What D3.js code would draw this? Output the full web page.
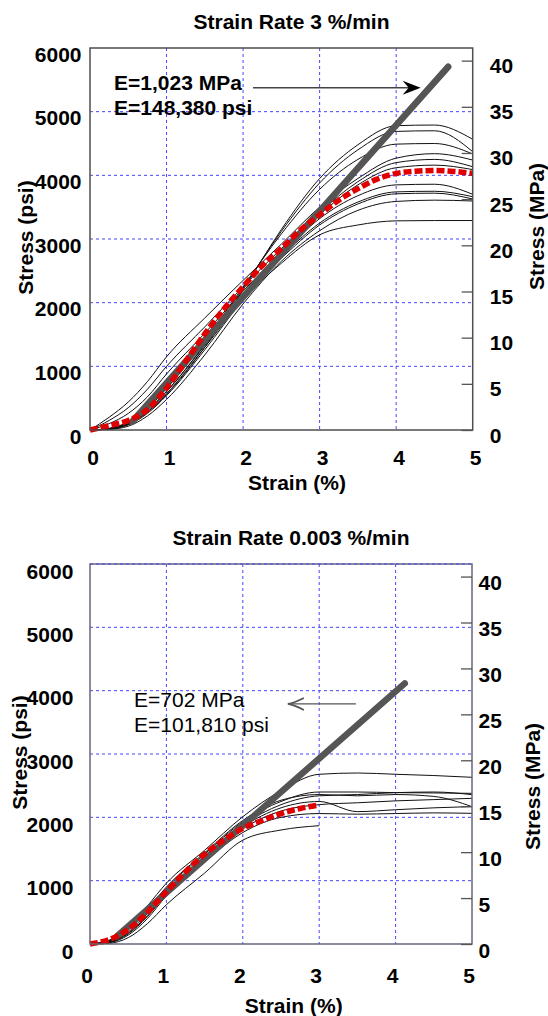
<!DOCTYPE html>
<html>
<head>
<meta charset="utf-8">
<script src="https://cdn.jsdelivr.net/npm/d3@7"></script>
<style>
    body { margin: 0; background: #fff; }
    text { font-family: "Liberation Sans", Arial, sans-serif; font-weight: bold; font-size: 21px; }
</style>
</head>
<body>
<svg id="drawing_region"></svg>
<script>
// ---- data (strain in %, stress in psi) ----
const strainGrid = [0, 0.25, 0.5, 0.75, 1, 1.5, 2, 2.5, 3, 3.5, 4, 4.5, 5];
const avgGrid = [0, 0.25, 0.5, 0.75, 1, 1.25, 1.5, 1.75, 2, 2.25, 2.5, 2.75, 3, 3.25, 3.5, 3.75, 4, 4.25, 4.5, 4.75, 5];

const xTicks = [0, 1, 2, 3, 4, 5];
const psiTicks = [0, 1000, 2000, 3000, 4000, 5000, 6000];
const mpaTicks = [0, 5, 10, 15, 20, 25, 30, 35, 40];
const PSI_PER_MPA = 145.04;

// strain rate 3 %/min
const fastCurves = [
    [0, 15, 90, 280, 560, 1300, 2200, 3150, 3950, 4480, 4780, 4790, 4566],
    [0, 20, 110, 320, 610, 1350, 2230, 3120, 3880, 4400, 4690, 4700, 4371],
    [0, 25, 130, 360, 660, 1400, 2250, 3080, 3780, 4250, 4490, 4500, 4335],
    [0, 200, 440, 760, 1150, 1760, 2350, 2920, 3500, 3950, 4270, 4340, 4240],
    [0, 150, 350, 640, 1000, 1620, 2250, 2850, 3420, 3900, 4200, 4250, 4135],
    [0, 100, 260, 520, 880, 1520, 2180, 2800, 3380, 3850, 4120, 4160, 4090],
    [0, 20, 100, 300, 600, 1330, 2100, 2760, 3320, 3680, 3850, 3860, 3702],
    [0, 15, 80, 260, 540, 1260, 2050, 2720, 3250, 3580, 3740, 3750, 3664],
    [0, 25, 120, 340, 650, 1380, 2150, 2700, 3220, 3550, 3710, 3720, 3628],
    [0, 10, 60, 220, 480, 1180, 1980, 2650, 3130, 3450, 3590, 3610, 3597],
    [0, 20, 90, 280, 570, 1300, 2050, 2620, 3065, 3220, 3285, 3290, 3290]
];
const fastAverage = [0, 70, 150, 320, 660, 1080, 1510, 1900, 2250, 2580, 2850, 3140, 3380,
    3610, 3790, 3940, 4030, 4065, 4076, 4062, 4030];
const fastModulus = [[0.55, 130], [4.68, 5706]];

// strain rate 0.003 %/min
const slowCurves = [
    [0, 60, 270, 600, 960, 1480, 2010, 2420, 2680, 2700, 2680, 2660, 2632],
    [0, 45, 220, 520, 880, 1420, 1930, 2250, 2400, 2400, 2390, 2385, 2379],
    [0, 35, 190, 480, 840, 1380, 1880, 2200, 2340, 2360, 2390, 2400, 2358],
    [0, 50, 240, 550, 900, 1440, 1950, 2270, 2360, 2340, 2360, 2330, 2168],
    [0, 30, 170, 450, 800, 1350, 1850, 2150, 2250, 2090, 2120, 2150, 2170],
    [0, 20, 140, 400, 760, 1300, 1760, 2000, 2060, 2050, 2060, 2070, 2063],
    [0, 25, 160, 430, 790, 1330, 1820, 2100, 2200, 2230, 2260, 2280, 2300],
    [0, 10, 100, 320, 620, 1120, 1640, 1800, 1868, null, null, null, null]
];
const slowAverage = [0, 70, 230, 500, 826, 1140, 1420, 1640, 1826, 1950, 2060, 2140, 2195];
const slowModulus = [[0.35, 120], [4.12, 4116]];

class StressStrainChart {

    constructor(config, data) {
        this.config = config;
        this.data = data;
        this.init();
    }

    init() {
        let self = this;
        let c = self.config;

        self.svg = d3.select(c.parent);

        self.xscale = d3.scaleLinear()
            .domain([0, 5])
            .range([c.left, c.right]);

        self.yscale = d3.scaleLinear()
            .domain([0, 6000])
            .range([c.bottom, c.top]);

        self.mpascale = d3.scaleLinear()
            .domain([0, 6000 / PSI_PER_MPA])
            .range([c.bottom, c.top]);

        self.chart = self.svg.append('g');
    }

    render() {
        let self = this;
        let c = self.config;
        let d = self.data;

        // grid
        const grid = self.chart.append('g')
            .attr('stroke', '#4545ff')
            .attr('stroke-width', 1)
            .attr('stroke-dasharray', '3,3');
        grid.selectAll('.vg')
            .data(xTicks.slice(1, -1))
            .enter()
            .append('line')
            .attr('x1', v => self.xscale(v))
            .attr('x2', v => self.xscale(v))
            .attr('y1', c.top)
            .attr('y2', c.bottom);
        grid.selectAll('.hg')
            .data(psiTicks.filter(v => v > 0 && v < 6000))
            .enter()
            .append('line')
            .attr('x1', c.left)
            .attr('x2', c.right)
            .attr('y1', v => self.yscale(v))
            .attr('y2', v => self.yscale(v));

        // specimen curves
        const line = d3.line()
            .defined(p => p[1] != null)
            .x(p => self.xscale(p[0]))
            .y(p => self.yscale(p[1]))
            .curve(d3.curveMonotoneX);

        self.chart.append('g')
            .selectAll('path')
            .data(d.curves)
            .enter()
            .append('path')
            .attr('d', ys => line(ys.map((v, i) => [strainGrid[i], v])))
            .attr('fill', 'none')
            .attr('stroke', '#111')
            .attr('stroke-width', 1);

        // modulus line
        self.chart.append('path')
            .attr('d', d3.line().x(p => self.xscale(p[0])).y(p => self.yscale(p[1]))(d.modulus))
            .attr('fill', 'none')
            .attr('stroke', '#555')
            .attr('stroke-width', 6.5)
            .attr('stroke-linecap', 'round');

        // average curve
        self.chart.append('path')
            .attr('d', line(d.average.map((v, i) => [avgGrid[i], v])))
            .attr('fill', 'none')
            .attr('stroke', '#e00000')
            .attr('stroke-width', 5.5)
            .attr('stroke-dasharray', '8,3');

        // frame
        self.chart.append('rect')
            .attr('x', c.left)
            .attr('y', c.top)
            .attr('width', c.right - c.left)
            .attr('height', c.bottom - c.top)
            .attr('fill', 'none')
            .attr('stroke', c.frameColor)
            .attr('stroke-width', 1.5);
        if (c.topGrid) {
            self.chart.append('line')
                .attr('x1', c.left).attr('x2', c.right)
                .attr('y1', c.top).attr('y2', c.top)
                .attr('stroke', '#4545ff')
                .attr('stroke-dasharray', '3,3');
        }

        // axes
        self.chart.append('g')
            .attr('transform', `translate(${c.left}, 0)`)
            .call(d3.axisLeft(self.yscale).tickValues(psiTicks).tickFormat(d3.format('d'))
                .tickSize(0).tickPadding(c.leftPad))
            .call(g => g.select('.domain').remove())
            .selectAll('text')
            .attr('dy', c.leftDy);

        self.chart.append('g')
            .attr('transform', `translate(${c.right}, 0)`)
            .call(d3.axisRight(self.mpascale).tickValues(mpaTicks).tickFormat(d3.format('d'))
                .tickSize(-11).tickPadding(c.rightPad))
            .call(g => g.select('.domain').remove())
            .call(g => g.selectAll('line').attr('stroke', '#555').attr('stroke-width', 1.3))
            .selectAll('text')
            .attr('dy', c.rightDy);

        self.chart.append('g')
            .attr('transform', `translate(0, ${c.bottom})`)
            .call(d3.axisBottom(self.xscale).tickValues(xTicks).tickFormat(d3.format('d')).tickSize(0))
            .call(g => g.select('.domain').remove())
            .selectAll('text')
            .attr('y', c.xLabelY)
            .attr('dy', 0)
            .attr('dx', c.xLabelDx);

        // titles and labels
        self.chart.append('text')
            .attr('x', c.titleX)
            .attr('y', c.titleY)
            .attr('text-anchor', 'middle')
            .text(c.title);

        self.chart.append('text')
            .attr('x', c.xTitleX)
            .attr('y', c.xTitleY)
            .attr('text-anchor', 'middle')
            .text('Strain (%)');

        self.chart.append('text')
            .attr('transform', `translate(${c.yTitleX}, ${c.yTitleY}) rotate(-90)`)
            .attr('text-anchor', 'middle')
            .text('Stress (psi)');

        self.chart.append('text')
            .attr('transform', `translate(${c.y2TitleX}, ${c.y2TitleY}) rotate(-90)`)
            .attr('text-anchor', 'middle')
            .text('Stress (MPa)');

        // annotation
        const a = c.note;
        self.chart.selectAll('.note')
            .data(a.lines)
            .enter()
            .append('text')
            .attr('x', a.x)
            .attr('y', (t, i) => a.y + i * 25.5)
            .style('font-weight', a.weight)
            .text(t => t);

        const ay = self.yscale(a.arrowPsi);
        const x1 = self.xscale(a.arrowFrom);
        const x2 = self.xscale(a.arrowTo);
        const dir = x2 > x1 ? 1 : -1;
        self.chart.append('line')
            .attr('x1', x1).attr('x2', x2 - dir * 4)
            .attr('y1', ay).attr('y2', ay)
            .attr('stroke', a.arrowColor)
            .attr('stroke-width', 1.3);
        if (a.filled) {
            self.chart.append('path')
                .attr('d', `M${x2},${ay} L${x2 - dir * 18},${ay - 7} L${x2 - dir * 12},${ay} L${x2 - dir * 18},${ay + 7} Z`)
                .attr('fill', '#000');
        } else {
            self.chart.append('path')
                .attr('d', `M${x2 - dir * 16},${ay - 6} Q${x2 - dir * 6},${ay - 1} ${x2},${ay} Q${x2 - dir * 6},${ay + 1} ${x2 - dir * 16},${ay + 6}`)
                .attr('fill', 'none')
                .attr('stroke', a.arrowColor)
                .attr('stroke-width', 1.8);
        }
    }
}

d3.select('#drawing_region')
    .attr('width', 548)
    .attr('height', 1016);

const fastChart = new StressStrainChart({
    parent: '#drawing_region',
    left: 90, right: 472.7, top: 48, bottom: 430,
    frameColor: '#4d4d4d', topGrid: false,
    leftPad: 8.5, leftDy: 13,
    rightPad: 17, rightDy: 12,
    xLabelY: 35, xLabelDx: 2.5,
    title: 'Strain Rate 3 %/min', titleX: 291.5, titleY: 28.5,
    xTitleX: 297, xTitleY: 490,
    yTitleX: 33.3, yTitleY: 237.5,
    y2TitleX: 544, y2TitleY: 226.5,
    note: {
        lines: ['E=1,023 MPa', 'E=148,380 psi'], x: 114, y: 89.5, weight: 'bold',
        arrowPsi: 5376, arrowFrom: 2.13, arrowTo: 4.32, arrowColor: '#444', filled: true
    }
}, { curves: fastCurves, average: fastAverage, modulus: fastModulus });
fastChart.render();

const slowChart = new StressStrainChart({
    parent: '#drawing_region',
    left: 90, right: 472, top: 564, bottom: 944,
    frameColor: '#66667a', topGrid: true,
    leftPad: 16.7, leftDy: 14.3,
    rightPad: 6.5, rightDy: 13,
    xLabelY: 39.3, xLabelDx: -3.5,
    title: 'Strain Rate 0.003 %/min', titleX: 291, titleY: 545,
    xTitleX: 293.7, xTitleY: 1013,
    yTitleX: 26.7, yTitleY: 752.5,
    y2TitleX: 539.5, y2TitleY: 786.5,
    note: {
        lines: ['E=702 MPa', 'E=101,810 psi'], x: 134, y: 706.5, weight: 'normal',
        arrowPsi: 3790, arrowFrom: 3.48, arrowTo: 2.59, arrowColor: '#555', filled: false
    }
}, { curves: slowCurves, average: slowAverage, modulus: slowModulus });
slowChart.render();
</script>
</body>
</html>
